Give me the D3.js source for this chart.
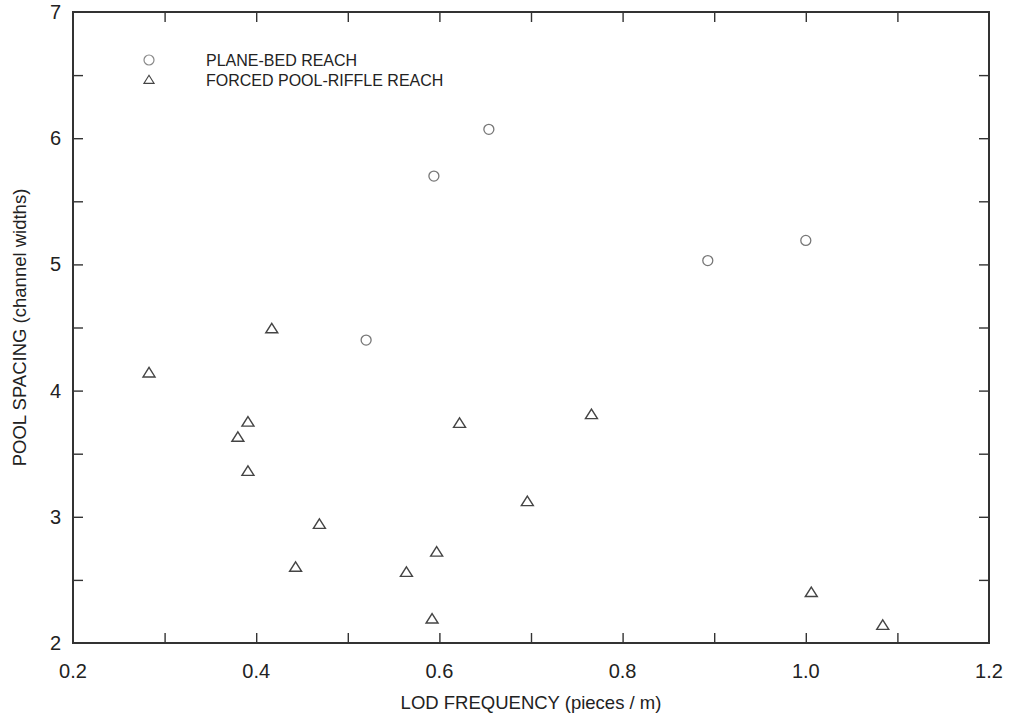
<!DOCTYPE html>
<html>
<head>
<meta charset="utf-8">
<script src="https://cdn.jsdelivr.net/npm/d3@7"></script>
<style>
  body { margin: 0; background: #fff; }
  svg { display: block; }
  text { font-family: "Liberation Sans", Arial, Helvetica, sans-serif; fill: #222; }
</style>
</head>
<body>
<svg id="chart" width="1010" height="716"></svg>
<script>
// Data
const planeBedX = [0.654, 0.594, 0.520, 0.893, 1.000];
const planeBedY = [6.07, 5.70, 4.40, 5.03, 5.19];

const forcedX = [0.417, 0.283, 0.391, 0.380, 0.391, 0.622, 0.696, 0.469, 0.597, 0.443, 0.564, 0.592, 0.766, 1.006, 1.084];
const forcedY = [4.49, 4.14, 3.75, 3.63, 3.36, 3.74, 3.12, 2.94, 2.72, 2.60, 2.56, 2.19, 3.81, 2.40, 2.14];

const xTickLabels = [0.2, 0.4, 0.6, 0.8, 1.0, 1.2];
const xTicksAll = [0.3, 0.4, 0.5, 0.6, 0.7, 0.8, 0.9, 1.0, 1.1];
const yTickLabels = [2, 3, 4, 5, 6, 7];
const yTicksAll = [2.5, 3, 3.5, 4, 4.5, 5, 5.5, 6, 6.5];

const seriesNames = ["PLANE-BED REACH", "FORCED POOL-RIFFLE REACH"];

const svg = d3.select("#chart");
const L = 73, R = 989, T = 12, B = 643;

const x = d3.scaleLinear().domain([0.2, 1.2]).range([L, R]);
const y = d3.scaleLinear().domain([2, 7]).range([B, T]);

const tickLen = 10;
const axisColor = "#333";

// Inward ticks on all four sides via d3 axes
function styleAxis(g) {
  g.select(".domain").remove();
  g.selectAll(".tick line").attr("stroke", axisColor).attr("stroke-width", 1.4);
  g.selectAll(".tick text").remove();
}
svg.append("g").attr("transform", `translate(0,${B})`)
  .call(d3.axisTop(x).tickValues(xTicksAll).tickSize(tickLen)).call(styleAxis);
svg.append("g").attr("transform", `translate(0,${T})`)
  .call(d3.axisBottom(x).tickValues(xTicksAll).tickSize(tickLen)).call(styleAxis);
svg.append("g").attr("transform", `translate(${L},0)`)
  .call(d3.axisRight(y).tickValues(yTicksAll).tickSize(tickLen)).call(styleAxis);
svg.append("g").attr("transform", `translate(${R},0)`)
  .call(d3.axisLeft(y).tickValues(yTicksAll).tickSize(tickLen)).call(styleAxis);

// Frame
svg.append("rect")
  .attr("x", L).attr("y", T).attr("width", R - L).attr("height", B - T)
  .attr("fill", "none").attr("stroke", axisColor).attr("stroke-width", 2);

// Tick labels
svg.append("g").selectAll("text").data(xTickLabels).join("text")
  .attr("x", d => x(d)).attr("y", B + 35)
  .attr("text-anchor", "middle").attr("font-size", 20)
  .text(d => d.toFixed(1));

svg.append("g").selectAll("text").data(yTickLabels).join("text")
  .attr("x", L - 12).attr("y", d => y(d) + 7)
  .attr("text-anchor", "end").attr("font-size", 20)
  .text(d => d);

// Axis titles
svg.append("text")
  .attr("x", (L + R) / 2).attr("y", 709)
  .attr("text-anchor", "middle").attr("font-size", 18.5)
  .text("LOD FREQUENCY (pieces / m)");

svg.append("text")
  .attr("transform", `translate(26,${(T + B) / 2}) rotate(-90)`)
  .attr("text-anchor", "middle").attr("font-size", 18.5)
  .text("POOL SPACING (channel widths)");

// Markers
const triPath = "M0,-5.5 L6,4 L-6,4 Z";

const planeData = planeBedX.map((v, i) => ({ x: v, y: planeBedY[i] }));
const forcedData = forcedX.map((v, i) => ({ x: v, y: forcedY[i] }));

svg.append("g").selectAll("circle").data(planeData).join("circle")
  .attr("cx", d => x(d.x)).attr("cy", d => y(d.y)).attr("r", 5)
  .attr("fill", "none").attr("stroke", "#777").attr("stroke-width", 1.3);

svg.append("g").selectAll("path").data(forcedData).join("path")
  .attr("d", triPath)
  .attr("transform", d => `translate(${x(d.x)},${y(d.y)})`)
  .attr("fill", "none").attr("stroke", "#444").attr("stroke-width", 1.4);

// Legend
const legend = svg.append("g");
legend.append("circle").attr("cx", 149).attr("cy", 60).attr("r", 5)
  .attr("fill", "none").attr("stroke", "#888").attr("stroke-width", 1.2);
legend.append("path").attr("d", triPath).attr("transform", "translate(149,80) scale(0.85)")
  .attr("fill", "none").attr("stroke", "#444").attr("stroke-width", 1.3);
legend.selectAll("text").data(seriesNames).join("text")
  .attr("x", 206).attr("y", (d, i) => 66 + i * 20)
  .attr("font-size", 16)
  .text(d => d);
</script>
</body>
</html>
